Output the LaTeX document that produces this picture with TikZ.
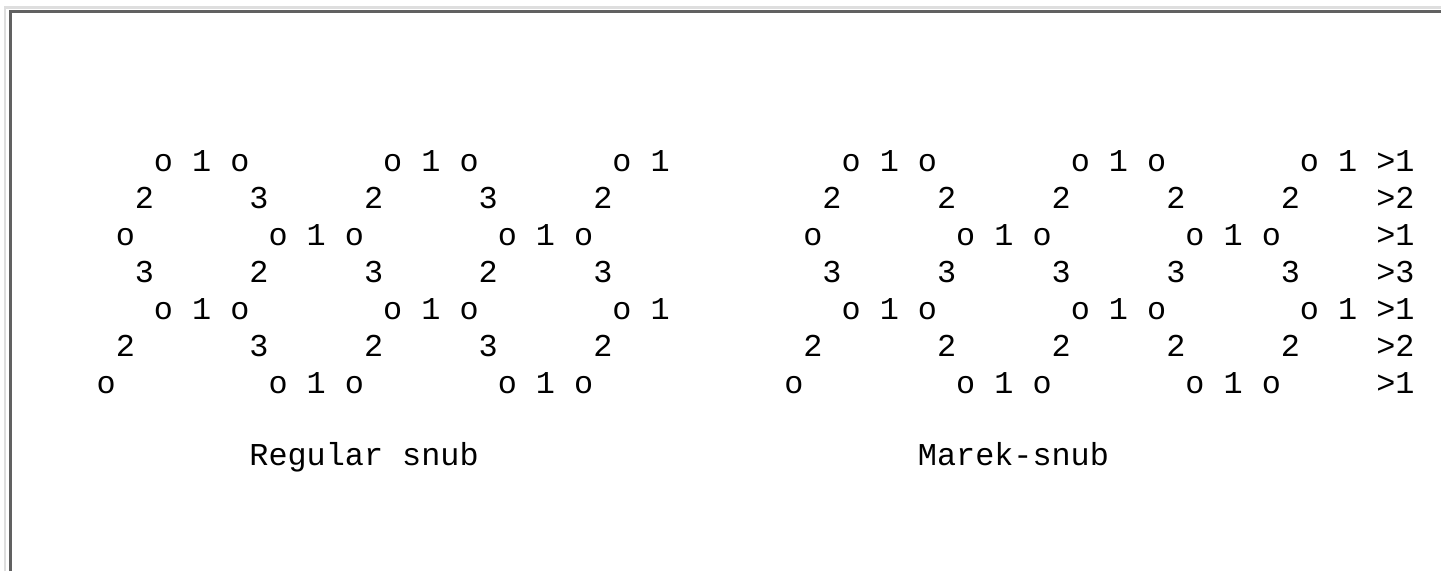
\documentclass[tikz,border=0pt]{standalone}
\usepackage{fontspec}
\newfontfamily\asciifont{Liberation Mono}

\begin{document}
\begin{tikzpicture}[
  x=1pt, y=-1pt,
  glyph/.style={anchor=base west, inner sep=0pt, outer sep=0pt,
                font=\asciifont\fontsize{31.83}{37}\selectfont},
  frameLight/.style={draw=black!13, line width=2.5pt},
  frameDark/.style={draw=black!62, line width=3pt},
]
\def\cw{19.1}   % character pitch
\def\xo{39.35}  % left edge of column 0
\def\yo{171}    % baseline of row 1
\def\lh{37}     % line height

\useasboundingbox (0,0) rectangle (1441,571);

% ---- inset frame ----
\draw[frameLight] (5,571) -- (5,7.5) -- (1441,7.5);
\draw[frameDark] (10,571) -- (10,11.5) -- (1441,11.5);

% ---- rows 1 and 5: top edges of the hexagons ----
\foreach \r in {1,5}{
  \foreach \c/\t in {6/{o 1 o},18/{o 1 o},30/{o 1},42/{o 1 o},54/{o 1 o},66/{o 1 >1}}{
    \node[glyph] (g\r-\c) at ({\xo+\c*\cw},{\yo+(\r-1)*\lh}) {\t};
  }
}

% ---- row 2 ----
\foreach \c/\t in {5/2,11/3,17/2,23/3,29/2,41/2,47/2,53/2,59/2,65/2,70/{>2}}{
  \node[glyph] (g2-\c) at ({\xo+\c*\cw},{\yo+\lh}) {\t};
}

% ---- row 3 ----
\foreach \c/\t in {4/o,12/{o 1 o},24/{o 1 o},40/o,48/{o 1 o},60/{o 1 o},70/{>1}}{
  \node[glyph] (g3-\c) at ({\xo+\c*\cw},{\yo+2*\lh}) {\t};
}

% ---- row 4 ----
\foreach \c/\t in {5/3,11/2,17/3,23/2,29/3,41/3,47/3,53/3,59/3,65/3,70/{>3}}{
  \node[glyph] (g4-\c) at ({\xo+\c*\cw},{\yo+3*\lh}) {\t};
}

% ---- row 6 ----
\foreach \c/\t in {4/2,11/3,17/2,23/3,29/2,40/2,47/2,53/2,59/2,65/2,70/{>2}}{
  \node[glyph] (g6-\c) at ({\xo+\c*\cw},{\yo+5*\lh}) {\t};
}

% ---- row 7 ----
\foreach \c/\t in {3/o,12/{o 1 o},24/{o 1 o},39/o,48/{o 1 o},60/{o 1 o},70/{>1}}{
  \node[glyph] (g7-\c) at ({\xo+\c*\cw},{\yo+6*\lh}) {\t};
}

% ---- captions ----
\node[glyph] (capRegular) at ({\xo+11*\cw},465) {Regular snub};
\node[glyph] (capMarek) at ({\xo+46*\cw},465) {Marek-snub};
\end{tikzpicture}
\end{document}
